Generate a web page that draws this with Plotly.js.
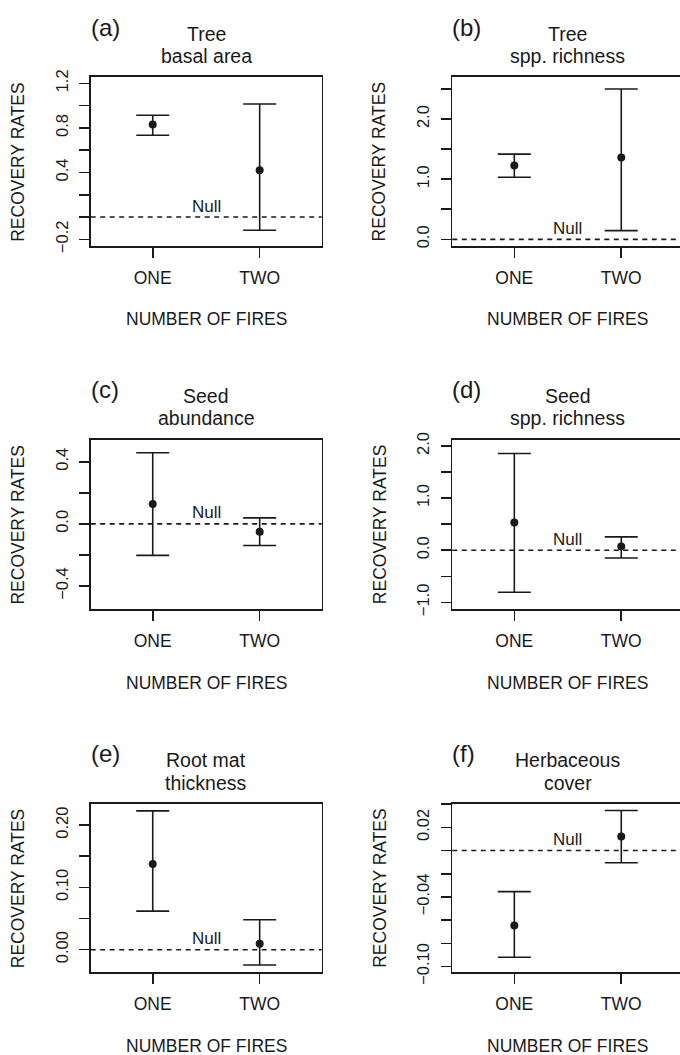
<!DOCTYPE html>
<html><head><meta charset="utf-8">
<script src="https://cdn.plot.ly/plotly-3.0.1.min.js"></script>
<style>html,body{margin:0;padding:0;background:#fff}</style>
</head><body><div id="chart" style="width:680px;height:1055px"></div>
<script>
// ---- data ----
const categories = ["ONE", "TWO"];
const categoryPos = [1, 2];
const panelLetters = ["(a)", "(b)", "(c)", "(d)", "(e)", "(f)"];
const titleLine1 = ["Tree", "Tree", "Seed", "Seed", "Root mat", "Herbaceous"];
const titleLine2 = ["basal area", "spp. richness", "abundance", "spp. richness", "thickness", "cover"];
const meanOne = [0.83, 1.228, 0.128, 0.531, 0.1376, -0.0647];
const lowOne  = [0.734, 1.033, -0.203, -0.806, 0.0619, -0.092];
const highOne = [0.913, 1.417, 0.458, 1.855, 0.2229, -0.0354];
const meanTwo = [0.421, 1.361, -0.051, 0.07, 0.0096, 0.0122];
const lowTwo  = [-0.119, 0.144, -0.139, -0.147, -0.0245, -0.0105];
const highTwo = [1.015, 2.5, 0.0385, 0.256, 0.048, 0.0346];
const nullValue = 0;
const nullLabel = "Null";
const xTitle = "NUMBER OF FIRES";
const yTitle = "RECOVERY RATES";
const yRanges = [[-0.26, 1.257], [-0.111, 2.7], [-0.548, 0.543], [-1.126, 2.124], [-0.0363, 0.2347], [-0.105, 0.0406]];
const tickValsA = [-0.2, 0, 0.2, 0.4, 0.6, 0.8, 1.0, 1.2];
const tickTextA = ["\u22120.2", "", "", "0.4", "", "0.8", "", "1.2"];
const tickValsB = [0, 0.5, 1.0, 1.5, 2.0, 2.5];
const tickTextB = ["0.0", "", "1.0", "", "2.0", ""];
const tickValsC = [-0.4, -0.2, 0, 0.2, 0.4];
const tickTextC = ["\u22120.4", "", "0.0", "", "0.4"];
const tickValsD = [-1.0, -0.5, 0, 0.5, 1.0, 1.5, 2.0];
const tickTextD = ["\u22121.0", "", "0.0", "", "1.0", "", "2.0"];
const tickValsE = [0, 0.05, 0.10, 0.15, 0.20];
const tickTextE = ["0.00", "", "0.10", "", "0.20"];
const tickValsF = [-0.10, -0.08, -0.06, -0.04, -0.02, 0, 0.02, 0.04];
const tickTextF = ["\u22120.10", "", "", "\u22120.04", "", "", "0.02", ""];
const tickVals = [tickValsA, tickValsB, tickValsC, tickValsD, tickValsE, tickValsF];
const tickTexts = [tickTextA, tickTextB, tickTextC, tickTextD, tickTextE, tickTextF];

// ---- geometry (pixels) ----
const W = 680, H = 1055;
const boxW = 231;
const colLeft = [90.7, 452.3];
const rowTop = [77, 439.5, 803.5];
const rowBottom = [246, 609, 972.3];
const xMin = 0.42, xMax = 2.58;
const pxPerX = boxW / (xMax - xMin);
const ink = "#1a1a1a";
const LW = 1.6;
const FONT = "Liberation Sans, Arial, Helvetica, sans-serif";

const data = [];
const layout = {
  width: W, height: H,
  margin: {l: 0, r: 0, t: 0, b: 0},
  paper_bgcolor: "#fff", plot_bgcolor: "#fff",
  showlegend: false,
  font: {family: FONT, color: ink, size: 16},
  annotations: [], shapes: []
};

for (let i = 0; i < 6; i++) {
  const col = i % 2, row = Math.floor(i / 2);
  const n = i === 0 ? "" : String(i + 1);
  const left = colLeft[col];
  const right = Math.min(left + boxW, W);
  const top = rowTop[row], bottom = rowBottom[row];
  const xr = [xMin, xMin + (right - left) / pxPerX];

  layout["xaxis" + n] = {
    domain: [left / W, right / W], range: xr, anchor: "y" + n,
    tickvals: categoryPos, ticktext: categories,
    ticks: "outside", ticklen: 10, tickwidth: LW, tickcolor: ink,
    showline: true, linewidth: LW, linecolor: ink, mirror: true,
    showgrid: false, zeroline: false, fixedrange: true,
    tickfont: {size: 17.5, family: FONT, color: ink},
    ticklabelstandoff: 5
  };
  layout["yaxis" + n] = {
    domain: [1 - bottom / H, 1 - top / H], range: yRanges[i], anchor: "x" + n,
    tickvals: tickVals[i], ticktext: tickTexts[i], tickangle: -90,
    ticks: "outside", ticklen: 10, tickwidth: LW, tickcolor: ink,
    showline: true, linewidth: LW, linecolor: ink, mirror: col === 0,
    showgrid: false, zeroline: false, fixedrange: true,
    tickfont: {size: 16.5, family: FONT, color: ink},
    ticklabelstandoff: 5
  };

  data.push({
    type: "scatter", mode: "markers",
    x: categoryPos, y: [meanOne[i], meanTwo[i]],
    xaxis: "x" + n, yaxis: "y" + n,
    marker: {color: ink, size: 8},
    error_y: {
      type: "data", symmetric: false,
      array: [highOne[i] - meanOne[i], highTwo[i] - meanTwo[i]],
      arrayminus: [meanOne[i] - lowOne[i], meanTwo[i] - lowTwo[i]],
      color: ink, thickness: LW, width: 16.5
    },
    hoverinfo: "skip"
  });

  layout.shapes.push({
    type: "line", xref: "x" + n + " domain", yref: "y" + n,
    x0: 0, x1: 1, y0: nullValue, y1: nullValue,
    line: {color: ink, width: LW, dash: "5px,4.5px"}
  });

  layout.annotations.push({
    xref: "x" + n, yref: "y" + n, x: 1.5, y: nullValue,
    text: nullLabel, showarrow: false, xanchor: "center", yanchor: "middle",
    yshift: 11, font: {size: 17, family: FONT, color: ink}
  });

  const cx = (left + boxW / 2) / W;
  layout.annotations.push({
    xref: "paper", yref: "paper", x: cx, y: 1 - (top - 43.5) / H,
    text: titleLine1[i], showarrow: false, xanchor: "center", yanchor: "middle",
    borderpad: 0, font: {size: 19.5, family: FONT, color: ink}
  });
  layout.annotations.push({
    xref: "paper", yref: "paper", x: cx, y: 1 - (top - 21) / H,
    text: titleLine2[i], showarrow: false, xanchor: "center", yanchor: "middle",
    borderpad: 0, font: {size: 19.5, family: FONT, color: ink}
  });
  layout.annotations.push({
    xref: "paper", yref: "paper", x: (left - 2) / W, y: 1 - (top - 50) / H,
    text: panelLetters[i], showarrow: false, xanchor: "left", yanchor: "middle",
    font: {size: 24, family: FONT, color: ink}
  });
  layout.annotations.push({
    xref: "paper", yref: "paper", x: cx, y: 1 - (bottom + 73.5) / H,
    text: xTitle, showarrow: false, xanchor: "center", yanchor: "middle",
    font: {size: 17.5, family: FONT, color: ink}
  });
  layout.annotations.push({
    xref: "paper", yref: "paper", x: (left - 72.4) / W, y: 1 - ((top + bottom) / 2) / H,
    text: yTitle, showarrow: false, textangle: -90, xanchor: "center", yanchor: "middle",
    font: {size: 17.5, family: FONT, color: ink}
  });
}

Plotly.newPlot("chart", data, layout, {displayModeBar: false, staticPlot: true});
</script></body></html>
